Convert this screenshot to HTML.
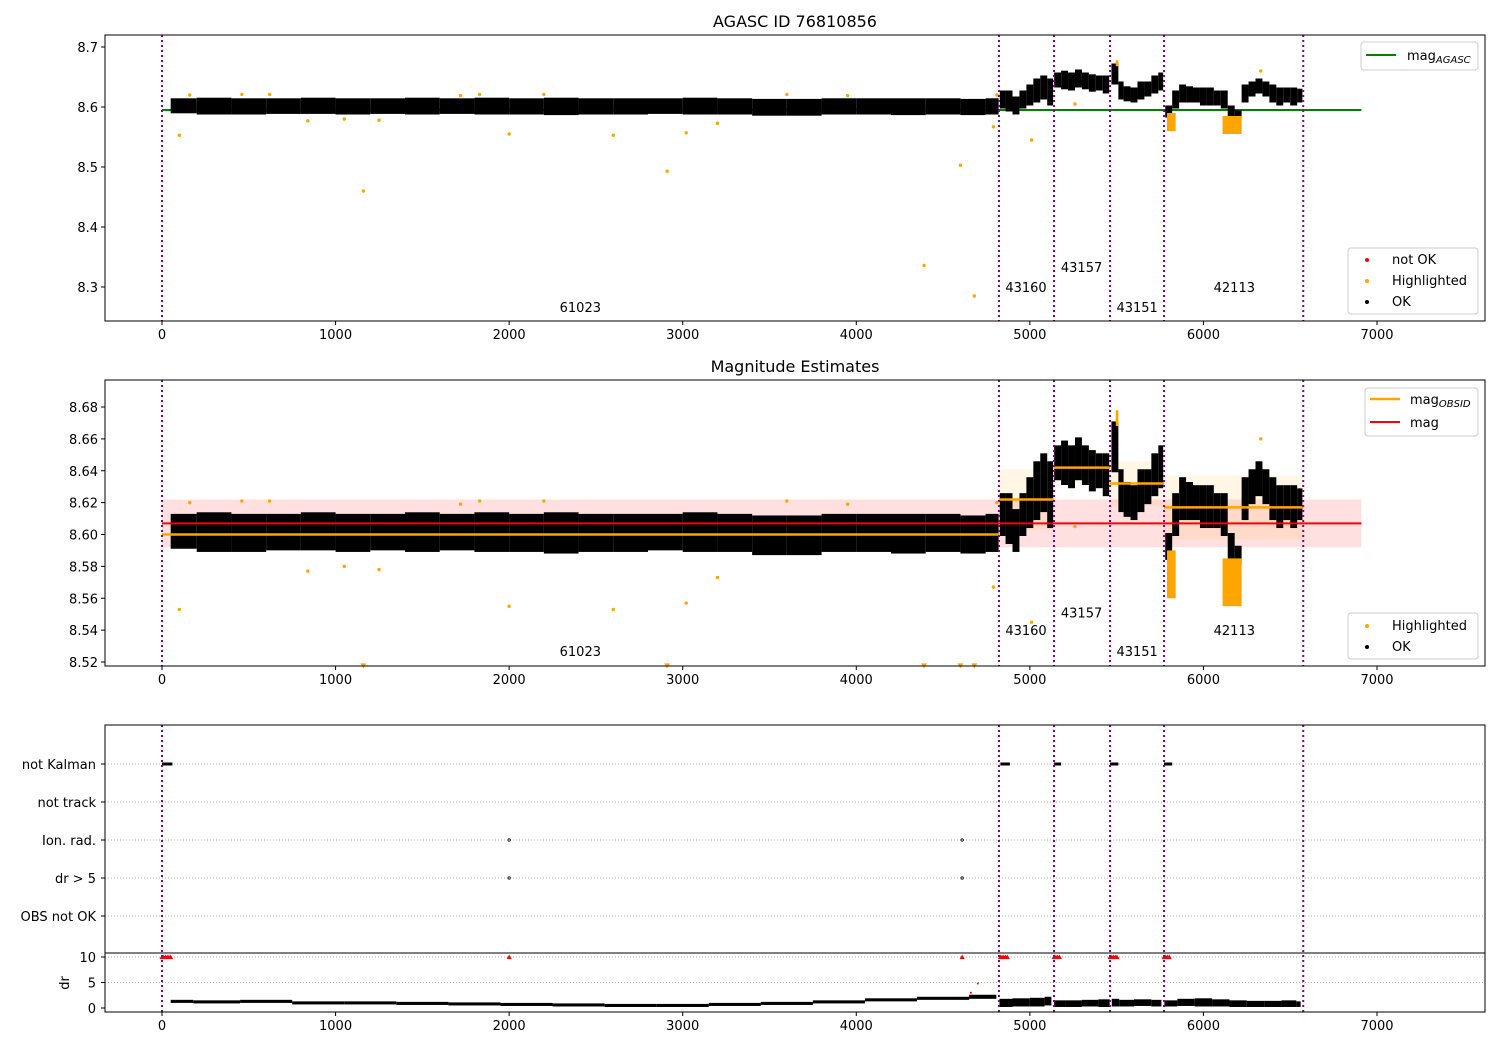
<!DOCTYPE html>
<html><head><meta charset="utf-8">
<style>
html,body{margin:0;padding:0;background:#fff;}
svg{display:block;font-family:"DejaVu Sans","Liberation Sans",sans-serif;}
</style></head>
<body>
<svg id="chart" width="1500" height="1050" viewBox="0 0 1500 1050" xmlns="http://www.w3.org/2000/svg">
<rect width="1500" height="1050" fill="#fff"/>
</svg>
<script>
// ---------- data ----------
const obsBoundaries = [0, 4822, 5139, 5462, 5773, 6575];
const obsIds = ["61023", "43160", "43157", "43151", "42113"];
const obsLabelX = [2410, 4978, 5298, 5618, 6178];
const obsLabelTopMag = [8.267, 8.300, 8.333, 8.267, 8.300];
const obsLabelMidMag = [8.527, 8.540, 8.551, 8.527, 8.540];
// binned OK point cloud: centre time, low mag, high mag
const binT = [100,300,500,700,900,1100,1300,1500,1700,1900,2100,2300,2500,2700,2900,3100,3300,3500,3700,3900,4100,4300,4500,4700,4790,
  4840,4880,4920,4960,5000,5040,5080,5120,
  5160,5200,5240,5280,5320,5360,5400,5440,
  5500,5520,5560,5600,5640,5680,5720,5760,
  5800,5840,5880,5920,5960,6000,6040,6080,6120,6160,6200,6240,6280,6320,6360,6400,6440,6480,6520,6560];
const binLo = [8.592,8.590,8.590,8.591,8.591,8.590,8.591,8.590,8.591,8.590,8.590,8.589,8.590,8.590,8.591,8.590,8.590,8.588,8.588,8.590,8.590,8.589,8.590,8.589,8.590,
  8.600,8.595,8.590,8.600,8.605,8.610,8.615,8.605,
  8.635,8.632,8.630,8.635,8.632,8.628,8.630,8.625,
  8.640,8.615,8.612,8.610,8.615,8.620,8.625,8.630,
  8.585,8.600,8.610,8.610,8.610,8.605,8.605,8.605,8.600,8.582,8.582,8.610,8.620,8.625,8.620,8.610,8.605,8.610,8.605,8.610];
const binHi = [8.612,8.613,8.612,8.612,8.613,8.612,8.612,8.613,8.612,8.613,8.612,8.613,8.612,8.612,8.612,8.613,8.612,8.611,8.611,8.612,8.612,8.612,8.612,8.611,8.612,
  8.625,8.625,8.615,8.625,8.635,8.645,8.650,8.645,
  8.655,8.658,8.655,8.660,8.655,8.652,8.650,8.650,
  8.670,8.640,8.632,8.630,8.640,8.640,8.650,8.655,
  8.600,8.625,8.635,8.632,8.630,8.630,8.630,8.625,8.625,8.600,8.592,8.635,8.640,8.645,8.640,8.635,8.630,8.630,8.630,8.628];
// highlighted (orange) clusters: time range & mag range
const hlT0 = [5790, 6110, 5495];
const hlT1 = [5840, 6220, 5510];
const hlLo = [8.560, 8.555, 8.668];
const hlHi = [8.590, 8.585, 8.678];
// isolated highlighted points
const outT = [100,160,460,620,840,1050,1160,1250,1720,1830,2000,2200,2600,2910,3020,3200,3600,3950,4390,4600,4680,4790,4810,5010,5260,6330];
const outMag = [8.553,8.620,8.621,8.621,8.577,8.580,8.460,8.578,8.619,8.621,8.555,8.621,8.553,8.493,8.557,8.573,8.621,8.619,8.336,8.503,8.285,8.567,8.62,8.545,8.605,8.660];
const magAgasc = 8.595;
const magMean = 8.607, magStdLo = 8.592, magStdHi = 8.622;
const obsMag = [8.600, 8.622, 8.642, 8.632, 8.617];
const obsMagLo = [8.590, 8.603, 8.632, 8.618, 8.597];
const obsMagHi = [8.610, 8.641, 8.652, 8.646, 8.637];
// flags
const flagCats = ["not Kalman","not track","Ion. rad.","dr > 5","OBS not OK"];
const kalmanT0 = [0, 4830, 5140, 5462, 5773];
const kalmanT1 = [60, 4885, 5180, 5510, 5820];
const ionT = [2000, 4610];
const drBigT = [0,10,20,30,40,50,2000,4610,4830,4840,4850,4860,4870,5140,5150,5160,5170,5462,5472,5482,5492,5502,5773,5783,5793,5803];
// dr trace (binned mean, lo, hi)
const drT = [60,300,600,900,1200,1500,1800,2100,2400,2700,3000,3300,3600,3900,4200,4500,4800,
  4850,4950,5050,5120,5160,5250,5350,5440,5480,5550,5650,5750,5800,5900,6000,6100,6200,6300,6400,6500,6570];
const drLo = [1.0,0.9,1.0,0.7,0.7,0.6,0.5,0.4,0.3,0.2,0.2,0.4,0.6,0.9,1.3,1.6,1.8,
  0.2,0.3,0.3,0.5,0.2,0.2,0.3,0.2,0.3,0.3,0.4,0.3,0.3,0.4,0.3,0.3,0.2,0.2,0.2,0.2,0.2];
const drHi = [1.6,1.5,1.6,1.3,1.3,1.2,1.1,1.0,0.9,0.8,0.8,1.0,1.2,1.5,1.9,2.2,2.6,
  1.8,1.9,2.0,2.2,1.5,1.5,1.6,1.7,1.8,1.6,1.7,1.6,1.5,1.8,1.9,1.7,1.5,1.4,1.4,1.5,1.3];
const xTicks = [0,1000,2000,3000,4000,5000,6000,7000];
const topTicks = [8.3,8.4,8.5,8.6,8.7];
const midTicks = [8.52,8.54,8.56,8.58,8.60,8.62,8.64,8.66,8.68];
const drTicks = [0,5,10];

// ---------- helpers ----------
const svg = document.getElementById('chart');
const NS = 'http://www.w3.org/2000/svg';
function mk(tag, attrs, parent){const e=document.createElementNS(NS,tag);for(const k in attrs)e.setAttribute(k,attrs[k]);(parent||svg).appendChild(e);return e;}
const L=105, R=1485;
const X = t => 162 + t*0.173571;
const Ytop = m => 107 - (m-8.6)*600;
const Ymid = m => 662 - (m-8.52)*1593.75;
const Ydr = d => 1008 - d*5.1;
const catY = [764,802,840,878,916];

function axesBox(y0,y1,name){
  const r=mk('rect',{x:L,y:y0,width:R-L,height:y1-y0,fill:'none',stroke:'#000','stroke-width':1});
  
  
}
function xAxis(yb,name){
  const g=mk('g',{});
  
  
  xTicks.forEach(t=>{
    mk('line',{x1:X(t),x2:X(t),y1:yb,y2:yb+4,stroke:'#000'},g);
    const tx=mk('text',{x:X(t),y:yb+18,'font-size':13,'text-anchor':'middle'},g);tx.textContent=t;
  });
}
function vlines(y0,y1){
  obsBoundaries.forEach(t=>{
    const l=mk('line',{x1:X(t),x2:X(t),y1:y0,y2:y1,stroke:'#800080','stroke-width':2,'stroke-dasharray':'2,3'});
    
    
  });
}
function cloud(Y, name){
  const g=mk('g',{});
  
  
  for(let i=0;i<binT.length;i++){
    let w;
    if(i<25){ const t0 = i===0?50:(binT[i-1]+binT[i])/2; const t1 = i===24?4820:(binT[i]+binT[i+1])/2; w=[t0,t1]; }
    else { const prev=binT[i-1], next=binT[i+1]; let t0=(prev+binT[i])/2, t1=next?(binT[i]+next)/2:6580;
      obsBoundaries.forEach(b=>{ if(b>t0 && b<binT[i]) t0=b+5; if(b<t1 && b>binT[i]) t1=b-5;});
      w=[t0,t1]; }
    const y1=Y(binHi[i]), y2=Y(binLo[i]);
    mk('rect',{x:X(w[0]),y:y1-1.5,width:X(w[1])-X(w[0]),height:(y2-y1)+3,fill:'#000'},g);
  }
  for(let i=0;i<hlT0.length;i++){
    const y1=Y(hlHi[i]), y2=Y(hlLo[i]);
    mk('rect',{x:X(hlT0[i]),y:y1,width:X(hlT1[i])-X(hlT0[i]),height:y2-y1,fill:'#ffa500'},g);
  }
}
function outliers(Y, ymin, name){
  const g=mk('g',{});
  
  
  outT.forEach((t,i)=>{
    if(outMag[i] < ymin){
      const x=X(t), y=Ymid(ymin)+3;
      mk('path',{d:`M${x-3},${y-4}L${x+3},${y-4}L${x},${y+1}Z`,fill:'#ffa500'},g);
    } else mk('circle',{cx:X(t),cy:Y(outMag[i]),r:1.7,fill:'#ffa500'},g);
  });
}
function yTicks(ticks,Y,dec,name){
  const g=mk('g',{});
  
  
  ticks.forEach(v=>{
    mk('line',{x1:L-4,x2:L,y1:Y(v),y2:Y(v),stroke:'#000'},g);
    const t=mk('text',{x:L-7,y:Y(v)+5,'font-size':13,'text-anchor':'end'},g);t.textContent=v.toFixed(dec);
  });
}
function labelsObs(Yv, arr, name){
  obsIds.forEach((id,i)=>{
    const t=mk('text',{x:X(obsLabelX[i]),y:Yv(arr[i])+5,'font-size':13,'text-anchor':'middle'});
    t.textContent=id;
    
    
  });
}
function title(x,y,txt,name){
  const t=mk('text',{x:x,y:y,'font-size':16,'text-anchor':'middle'});t.textContent=txt;
  
  
}
function legendBox(x,y,w,h,name){
  const g=mk('g',{});
  
  
  mk('rect',{x:x,y:y,width:w,height:h,rx:3,fill:'#fff','fill-opacity':0.85,stroke:'#ccc'},g);
  return g;
}

// ---------- top panel ----------
const cTop = mk('clipPath',{id:'ct'}); mk('rect',{x:L,y:35,width:R-L,height:286},cTop);
title(795,27,'AGASC ID 76810856','top-title');
const gTop = mk('g',{'clip-path':'url(#ct)'});
svg.appendChild(gTop);
{
  const gl=mk('line',{x1:X(0),x2:X(6910),y1:Ytop(magAgasc),y2:Ytop(magAgasc),stroke:'#008000','stroke-width':2});
  
  
}
cloud(Ytop,'top-ok-points');
outliers(Ytop,8.2,'top-highlighted-points');
vlines(35,321);
labelsObs(Ytop, obsLabelTopMag, 'top-obsid-label');
axesBox(35,321,'top-axes');
yTicks(topTicks,Ytop,1,'top-y-axis');
xAxis(321,'top-x-axis');
{
  const g=legendBox(1361,42,117,28,'top-legend-mag');
  mk('line',{x1:1366,x2:1396,y1:55,y2:55,stroke:'#008000','stroke-width':2},g);
  const t=mk('text',{x:1407,y:60,'font-size':13},g);t.innerHTML='mag<tspan font-size="10" font-style="italic" dy="3">AGASC</tspan>';
  const g2=legendBox(1348,248,130,66,'top-legend-points');
  mk('circle',{cx:1367,cy:260,r:2,fill:'red'},g2);
  mk('circle',{cx:1367,cy:281,r:2,fill:'#ffa500'},g2);
  mk('circle',{cx:1367,cy:302,r:2,fill:'#000'},g2);
  [['not OK',264],['Highlighted',285],['OK',306]].forEach(([s,y])=>{const t=mk('text',{x:1392,y:y,'font-size':13},g2);t.textContent=s;});
}

// ---------- middle panel ----------
title(795,372,'Magnitude Estimates','middle-title');
{
  const b=mk('rect',{x:X(0),y:Ymid(magStdHi),width:X(6910)-X(0),height:Ymid(magStdLo)-Ymid(magStdHi),fill:'#ff0000','fill-opacity':0.12});
  
  
}
for(let i=1;i<obsMag.length;i++){
  const b=mk('rect',{x:X(obsBoundaries[i]),y:Ymid(obsMagHi[i]),width:X(obsBoundaries[i+1])-X(obsBoundaries[i]),height:Ymid(obsMagLo[i])-Ymid(obsMagHi[i]),fill:'#ffa500','fill-opacity':0.1});
  
  
}
cloud(Ymid,'mid-ok-points');
outliers(Ymid,8.5185,'mid-highlighted-points');
for(let i=0;i<obsMag.length;i++){
  const l=mk('line',{x1:X(obsBoundaries[i]),x2:X(obsBoundaries[i+1]),y1:Ymid(obsMag[i]),y2:Ymid(obsMag[i]),stroke:'#ffa500','stroke-width':2.5});
  
  
}
{
  const l=mk('line',{x1:X(0),x2:X(6910),y1:Ymid(magMean),y2:Ymid(magMean),stroke:'red','stroke-width':2});
  
  
}
vlines(380,666);
labelsObs(Ymid, obsLabelMidMag, 'mid-obsid-label');
axesBox(380,666,'middle-axes');
yTicks(midTicks,Ymid,2,'mid-y-axis');
xAxis(666,'mid-x-axis');
{
  const g=legendBox(1365,388,113,48,'mid-legend-lines');
  mk('line',{x1:1370,x2:1400,y1:399,y2:399,stroke:'#ffa500','stroke-width':2.5},g);
  mk('line',{x1:1370,x2:1400,y1:422,y2:422,stroke:'red','stroke-width':2},g);
  const t=mk('text',{x:1410,y:404,'font-size':13},g);t.innerHTML='mag<tspan font-size="10" font-style="italic" dy="3">OBSID</tspan>';
  const t2=mk('text',{x:1410,y:427,'font-size':13},g);t2.textContent='mag';
  const g2=legendBox(1348,613,130,46,'mid-legend-points');
  mk('circle',{cx:1367,cy:626,r:2,fill:'#ffa500'},g2);
  mk('circle',{cx:1367,cy:647,r:2,fill:'#000'},g2);
  const a=mk('text',{x:1392,y:630,'font-size':13},g2);a.textContent='Highlighted';
  const b=mk('text',{x:1392,y:651,'font-size':13},g2);b.textContent='OK';
}

// ---------- bottom panel ----------
flagCats.forEach((c,i)=>{
  mk('line',{x1:L,x2:R,y1:catY[i],y2:catY[i],stroke:'#b0b0b0','stroke-dasharray':'1,2'});
  const t=mk('text',{x:L-9,y:catY[i]+5,'font-size':13,'text-anchor':'end'});t.textContent=c;
  
  
  mk('line',{x1:L-4,x2:L,y1:catY[i],y2:catY[i],stroke:'#000'});
});
[5,10].forEach(v=>mk('line',{x1:L,x2:R,y1:Ydr(v),y2:Ydr(v),stroke:'#b0b0b0','stroke-dasharray':'1,2'}));
kalmanT0.forEach((t,i)=>{
  const r=mk('rect',{x:X(t),y:catY[0]-1.5,width:X(kalmanT1[i])-X(t),height:3,fill:'#000'});
  
  
});
ionT.forEach(t=>{
  [2,3].forEach(ci=>{
    const c=mk('circle',{cx:X(t),cy:catY[ci],r:1.2,fill:'none',stroke:'#000','stroke-width':0.8});
    
    
  });
});
{
  const g=mk('g',{});
  
  
  for(let i=0;i<drT.length;i++){
    let t0=i===0?50:(drT[i-1]+drT[i])/2, t1=i===drT.length-1?6580:(drT[i]+drT[i+1])/2;
    obsBoundaries.forEach(b=>{ if(b>t0 && b<drT[i]) t0=b+10; if(b<t1 && b>drT[i]) t1=b-15;});
    mk('rect',{x:X(t0),y:Ydr(drHi[i]),width:X(t1)-X(t0),height:Ydr(drLo[i])-Ydr(drHi[i]),fill:'#000'},g);
  }
  const gr=mk('g',{});
  
  
  drBigT.forEach(t=>{const x=X(t),y=Ydr(10);mk('path',{d:`M${x-2.5},${y+2}L${x+2.5},${y+2}L${x},${y-2.5}Z`,fill:'red'},gr);});
  mk('circle',{cx:X(4700),cy:Ydr(4.8),r:1,fill:'red'},gr);
  mk('circle',{cx:X(4660),cy:Ydr(3),r:1,fill:'red'},gr);
}
mk('line',{x1:L,x2:R,y1:953,y2:953,stroke:'#000'});
vlines(725,1012);
axesBox(725,1012,'bottom-axes');
drTicks.forEach(v=>{
  mk('line',{x1:L-4,x2:L,y1:Ydr(v),y2:Ydr(v),stroke:'#000'});
  const t=mk('text',{x:L-9,y:Ydr(v)+5,'font-size':13,'text-anchor':'end'});t.textContent=v;
});
{
  const t=mk('text',{x:0,y:0,'font-size':13,'text-anchor':'middle',transform:'translate(69,983) rotate(-90)'});t.textContent='dr';
  
  
}
xAxis(1012,'bottom-x-axis');
</script>
</body></html>
